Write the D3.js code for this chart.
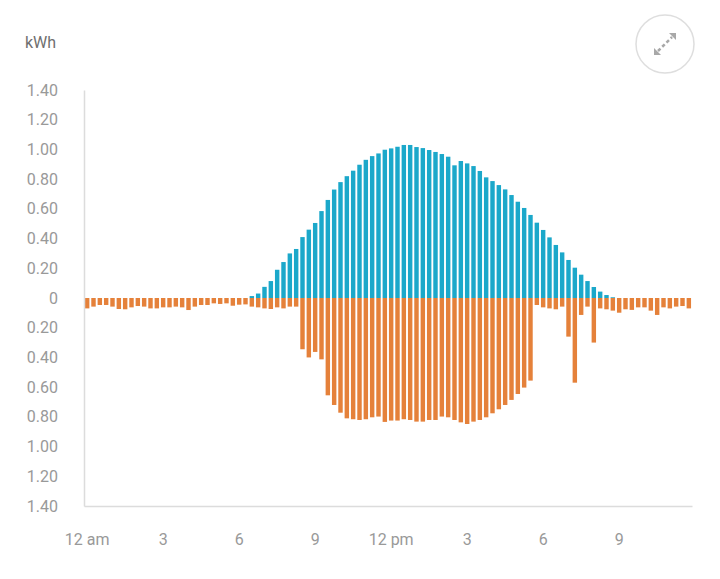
<!doctype html>
<html>
<head>
<meta charset="utf-8">
<script src="https://d3js.org/d3.v7.min.js"></script>
<style>
  body { margin: 0; background: #fff; }
  text { font-family: Roboto, "Open Sans", sans-serif; }
</style>
</head>
<body>
<svg id="chart" width="720" height="579"></svg>
<script>
// 15-minute intervals, 96 per day
const slots = d3.range(96);

// solar generation (above axis)
const generated = [
  0,0,0,0,0,0,0,0,0,0,0,0,0,0,0,0,
  0,0,0,0,0,0,0,0,0,0,0.013,0.03,0.075,0.114,0.19,0.242,
  0.30,0.33,0.41,0.46,0.505,0.585,0.66,0.73,0.78,0.82,0.857,0.897,0.93,0.955,0.973,0.998,
  1.007,1.018,1.03,1.03,1.016,1.009,0.996,0.983,0.969,0.951,0.893,0.922,0.906,0.888,0.855,0.812,
  0.787,0.76,0.731,0.693,0.648,0.606,0.559,0.507,0.458,0.408,0.357,0.307,0.256,0.204,0.157,0.114,
  0.074,0.043,0.02,0.005,0,0,0,0,0,0,0,0,0,0,0,0
];

// consumption (below axis)
const consumed = [
  0.07,0.058,0.047,0.047,0.058,0.074,0.076,0.063,0.054,0.058,0.07,0.07,0.063,0.063,0.058,0.063,
  0.081,0.058,0.047,0.047,0.036,0.04,0.036,0.052,0.045,0.043,0.058,0.063,0.07,0.074,0.063,0.07,
  0.058,0.058,0.345,0.40,0.363,0.413,0.655,0.72,0.772,0.81,0.816,0.821,0.816,0.803,0.798,0.834,
  0.825,0.825,0.816,0.821,0.832,0.832,0.821,0.821,0.798,0.803,0.821,0.837,0.848,0.832,0.821,0.803,
  0.776,0.749,0.72,0.686,0.646,0.603,0.556,0.047,0.063,0.07,0.076,0.058,0.26,0.57,0.114,0.058,
  0.30,0.07,0.076,0.085,0.099,0.076,0.08,0.063,0.063,0.085,0.114,0.063,0.07,0.058,0.054,0.07
];

const yTicks = [-1.4,-1.2,-1.0,-0.8,-0.6,-0.4,-0.2,0,0.2,0.4,0.6,0.8,1.0,1.2,1.4];
const xTickSlots = [0,12,24,36,48,60,72,84];
const xTickLabels = ["12 am","3","6","9","12 pm","3","6","9"];

const margin = { top: 90, left: 84, right: 28, bottom: 73 };
const width = 720 - margin.left - margin.right;
const height = 579 - margin.top - margin.bottom;

const svg = d3.select("#chart");
const g = svg.append("g").attr("transform", `translate(${margin.left},${margin.top})`);

const x = d3.scaleBand().domain(slots).range([0, width]).paddingInner(0.3).paddingOuter(0.15);
const y = d3.scaleLinear().domain([-1.4, 1.4]).range([height, 0]);

// bars
g.selectAll(".gen").data(slots).join("rect")
  .attr("class", "gen")
  .attr("x", d => x(d))
  .attr("width", x.bandwidth())
  .attr("y", d => y(generated[d]))
  .attr("height", d => y(0) - y(generated[d]))
  .attr("fill", "#1ba8ca");

g.selectAll(".use").data(slots).join("rect")
  .attr("class", "use")
  .attr("x", d => x(d))
  .attr("width", x.bandwidth())
  .attr("y", y(0))
  .attr("height", d => y(-consumed[d]) - y(0))
  .attr("fill", "#e5813a");

// axes
const yAxis = g.append("g")
  .call(d3.axisLeft(y).tickValues(yTicks).tickSize(0).tickPadding(26)
    .tickFormat(d => d === 0 ? "0" : Math.abs(d).toFixed(2)));
yAxis.select(".domain").attr("stroke", "#dcdcdc").attr("stroke-width", 1.5);
yAxis.selectAll(".tick text").attr("font-size", 16).attr("fill", "#999");

const xAxis = g.append("g")
  .attr("transform", `translate(0,${height})`)
  .call(d3.axisBottom(x).tickValues(xTickSlots).tickSize(0).tickPadding(28)
    .tickFormat((d, i) => xTickLabels[i]));
xAxis.select(".domain").attr("stroke", "#dcdcdc").attr("stroke-width", 1.5);
xAxis.selectAll(".tick text").attr("font-size", 16).attr("fill", "#999");

// unit label
svg.append("text")
  .attr("x", 25).attr("y", 48)
  .attr("font-size", 16).attr("fill", "#6f6f6f")
  .text("kWh");

// expand button
const btn = svg.append("g").attr("transform", "translate(665,44)");
btn.append("circle").attr("r", 29).attr("fill", "none").attr("stroke", "#dedede").attr("stroke-width", 1.5);
btn.append("line").attr("x1", -7).attr("y1", 7).attr("x2", 7).attr("y2", -7)
  .attr("stroke", "#a8a8a8").attr("stroke-width", 2.5).attr("stroke-dasharray", "3.5,2.5");
btn.append("path").attr("d", "M4,-11 L11,-11 L11,-4 Z").attr("fill", "#a8a8a8");
btn.append("path").attr("d", "M-4,11 L-11,11 L-11,4 Z").attr("fill", "#a8a8a8");
</script>
</body>
</html>
